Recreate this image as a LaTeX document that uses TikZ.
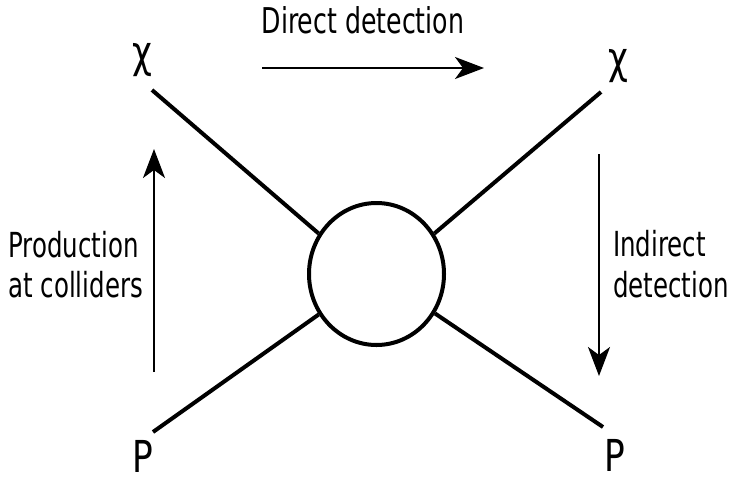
\documentclass[tikz,border=0pt]{standalone}
\usepackage{fontspec}
\newfontfamily\lab[FakeStretch=0.71]{DejaVu Sans}
\newfontfamily\sym[FakeStretch=0.78]{DejaVu Sans}
\usetikzlibrary{arrows.meta,shapes.geometric}
\begin{document}
\begin{tikzpicture}[x=1pt,y=-1pt,
  leg/.style={line width=4pt},
  flow/.style={line width=2pt,-{Stealth[length=29pt,width=22pt,inset=8pt]}},
  txt/.style={font=\lab\fontsize{34.5}{40}\selectfont, inner sep=0pt, anchor=base west},
  part/.style={font=\sym\fontsize{44}{48}\selectfont, inner sep=0pt}]
\useasboundingbox (0,0) rectangle (733,477);
\node[ellipse, draw, line width=4pt, minimum width=135pt, minimum height=142pt, inner sep=0pt] (blob) at (376.5,274) {};
\coordinate (tl) at (152,90);
\coordinate (tr) at (601,92);
\coordinate (bl) at (153,432);
\coordinate (br) at (603,427);
\draw[leg] (tl) -- (blob.145);
\draw[leg] (tr) -- (blob.35);
\draw[leg] (bl) -- (blob.215);
\draw[leg] (br) -- (blob.326);
\node[part] (chiL) at (142.5,60.5) {χ};
\node[part] (chiR) at (618.5,66.5) {χ};
\node[part] (pL) at (143,456) {P};
\node[part] (pR) at (615,455) {P};
\coordinate (h1) at (262,68);
\coordinate (h2) at (484,68);
\draw[flow] (h1) -- (h2);
\coordinate (u1) at (154,372);
\coordinate (u2) at (154,149);
\draw[flow] (u1) -- (u2);
\coordinate (d1) at (599,154);
\coordinate (d2) at (599,376);
\draw[flow] (d1) -- (d2);
\node[txt, font=\lab\fontsize{35.5}{40}\selectfont, anchor=base] (dd) at (363,33) {Direct detection};
\node[txt] (pr1) at (8,257) {Production};
\node[txt] (pr2) at (8,297) {at colliders};
\node[txt] (id1) at (613,256) {Indirect};
\node[txt] (id2) at (613,297) {detection};
\end{tikzpicture}
\end{document}
